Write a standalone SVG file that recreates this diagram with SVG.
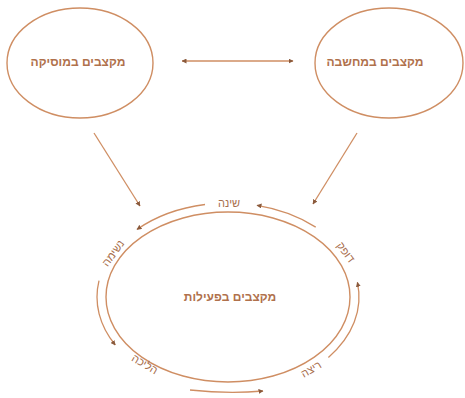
<svg xmlns="http://www.w3.org/2000/svg" width="465" height="398" viewBox="0 0 465 398">
<defs>
<style>
.node{fill:none;stroke:#cf8e63;stroke-width:1.4}
.conn{fill:none;stroke:#cf8e63;stroke-width:1.3}
.lbl{font-family:"Liberation Sans","DejaVu Sans",sans-serif;font-size:12px;font-weight:bold;fill:#b0714c;text-anchor:middle}
.cyc{font-family:"Liberation Sans","DejaVu Sans",sans-serif;font-size:11px;fill:#a86e4c;text-anchor:middle}
</style>
<marker id="ah" viewBox="0 0 10 10" refX="9" refY="5" markerWidth="5" markerHeight="5" orient="auto-start-reverse" markerUnits="userSpaceOnUse">
<path d="M0,0 L10,5 L0,10 z" fill="#8a5a3c"/>
</marker>
</defs>
<rect width="465" height="398" fill="#ffffff"/>
<g id="music">
<ellipse class="node" cx="80" cy="63" rx="73" ry="55"/>
<text class="lbl" x="78" y="66">מקצבים במוסיקה</text>
</g>
<g id="thought">
<ellipse class="node" cx="389" cy="63" rx="74" ry="55"/>
<text class="lbl" x="375" y="66">מקצבים במחשבה</text>
</g>
<g id="activity">
<ellipse class="node" cx="228" cy="297" rx="122" ry="85"/>
<text class="lbl" x="230" y="301">מקצבים בפעילות</text>
</g>
<g id="connectors">
<line class="conn" x1="182" y1="61" x2="293" y2="61" marker-start="url(#ah)" marker-end="url(#ah)"/>
<line class="conn" x1="94" y1="133" x2="140" y2="206" marker-end="url(#ah)"/>
<line class="conn" x1="357" y1="133" x2="313" y2="204" marker-end="url(#ah)"/>
<path class="conn" d="M315.7,227.1 A131,94 0 0 0 257,205.3" marker-end="url(#ah)"/>
<path class="conn" d="M205,204.5 A131,94 0 0 0 137,229.4" marker-end="url(#ah)"/>
<path class="conn" d="M99,280.7 A131,94 0 0 0 115.3,345" marker-end="url(#ah)"/>
<path class="conn" d="M190,390 Q228,394 263,391" marker-end="url(#ah)"/>
<path class="conn" d="M328.4,357.4 A131,94 0 0 0 357.4,282.3" marker-end="url(#ah)"/>
</g>
<g id="cycle-labels">
<text class="cyc" x="229" y="207">שינה</text>
<text class="cyc" transform="translate(346,252) rotate(53.5)" x="0" y="4">דופק</text>
<text class="cyc" transform="translate(113,253) rotate(-53.5)" x="0" y="4">נשימה</text>
<text class="cyc" transform="translate(145,364) rotate(31)" x="0" y="4">הליכה</text>
<text class="cyc" transform="translate(311,369) rotate(-30.4)" x="0" y="4">ריצה</text>
</g>
</svg>
